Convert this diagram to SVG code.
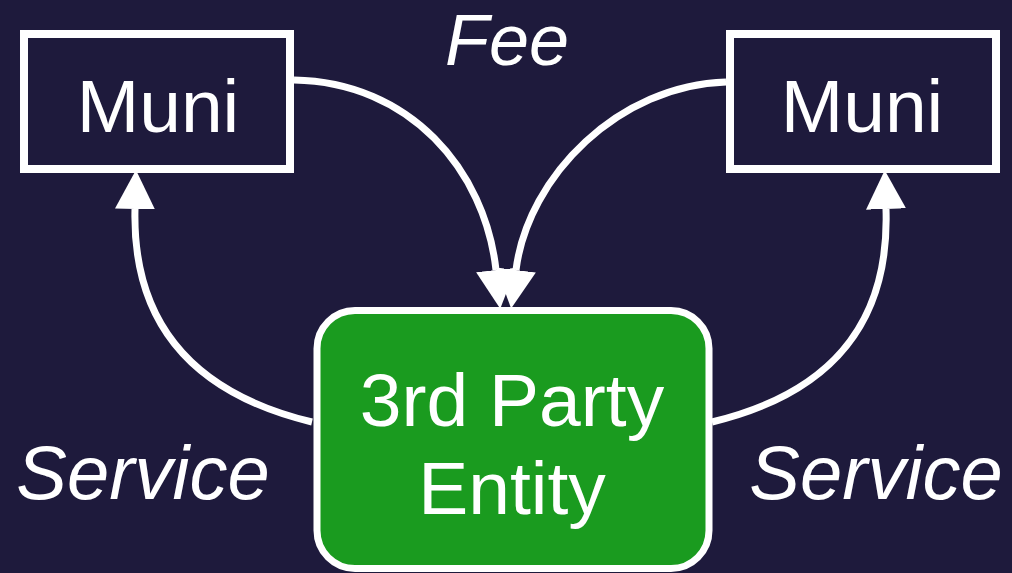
<svg xmlns="http://www.w3.org/2000/svg" width="1012" height="573" viewBox="0 0 1012 573">
  <style>
    .box { fill: none; stroke: #ffffff; stroke-width: 8; }
    .lbl { font-family: "Liberation Sans", Arial, sans-serif; fill: #ffffff; text-anchor: middle; }
    .edge { fill: none; stroke: #ffffff; stroke-width: 7; }
    .it { font-family: "Liberation Sans", Arial, sans-serif; font-style: italic; fill: #ffffff; }
  </style>
  <defs>
    <marker id="ah" markerUnits="userSpaceOnUse" markerWidth="40" markerHeight="40" refX="0" refY="18" orient="auto" viewBox="0 0 36 36">
      <path d="M0,0 L35,18 L0,36 Z" fill="#ffffff"/>
    </marker>
  </defs>
  <rect x="0" y="0" width="1012" height="573" fill="#1e1a3c"/>
  <g id="connectors">
    <path class="edge" d="M294,80 C410,82 485,170 496,270" marker-end="url(#ah)"/>
    <path class="edge" d="M726,82 C620,85 528,175 516,270" marker-end="url(#ah)"/>
    <path class="edge" d="M312,422 C200,395 132,330 135,209" marker-end="url(#ah)"/>
    <path class="edge" d="M712,422 C824,395 890,330 886,209" marker-end="url(#ah)"/>
  </g>
  <g id="muni-left">
    <rect class="box" x="24" y="34" width="266" height="135"/>
    <text class="lbl" x="158" y="132" font-size="75">Muni</text>
  </g>
  <g id="muni-right">
    <rect class="box" x="730" y="34" width="266" height="135"/>
    <text class="lbl" x="862" y="132" font-size="75">Muni</text>
  </g>
  <g id="third-party">
    <rect x="317" y="310.5" width="392" height="258" rx="38" ry="38" fill="#1a9b1f" stroke="#ffffff" stroke-width="7"/>
    <text class="lbl" x="512" y="426" font-size="75">3rd Party</text>
    <text class="lbl" x="512" y="514" font-size="75">Entity</text>
  </g>
  <g id="labels">
    <text class="it" x="507" y="65" font-size="72" text-anchor="middle">Fee</text>
    <text class="it" x="143" y="499" font-size="76" text-anchor="middle">Service</text>
    <text class="it" x="876" y="499" font-size="76" text-anchor="middle">Service</text>
  </g>
</svg>
